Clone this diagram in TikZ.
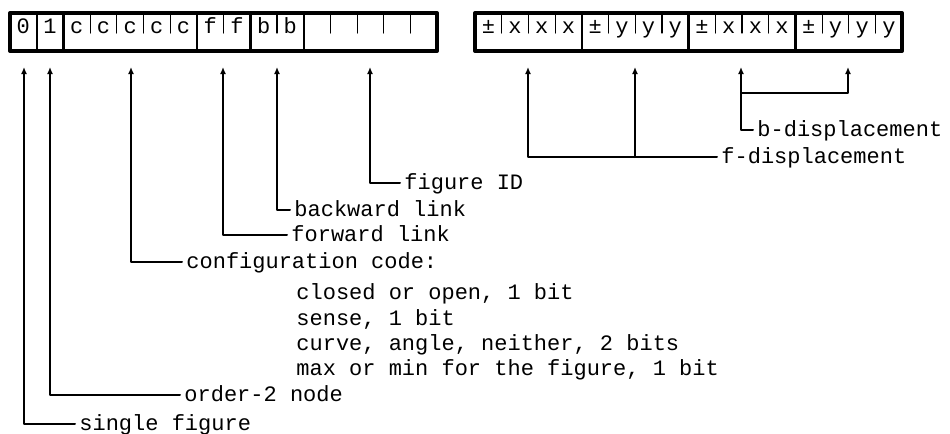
\documentclass[tikz,border=0pt]{standalone}
\usepackage{fontspec}
\setmainfont{Liberation Mono}
\usetikzlibrary{arrows.meta}
\tikzset{
  lbl/.style={anchor=west, inner xsep=2pt, inner ysep=0pt, text height=8pt, text depth=2pt,
    font=\fontsize{11}{13.5}\selectfont},
  bitchar/.style={anchor=base, inner sep=0pt, font=\fontsize{11}{13.5}\selectfont},
  ptr/.style={line width=1pt, -{Latex[length=3.5pt,width=3pt]}},
  tick/.style={line width=0.6pt},
  sep/.style={line width=1.2pt},
  frame/.style={line width=2pt},
}
\begin{document}
\begin{tikzpicture}[x=0.5pt, y=-0.5pt, line cap=round, line join=round]
    \useasboundingbox (0,0) rectangle (950,434);

    % Left word
    \foreach \b [count=\i from 0] in {0,1,c,c,c,c,c,f,f,b,b,{},{},{},{},{}}
        \node[bitchar] (l\i) at ({10+26.7*(\i+0.5)}, 33) {\b};
    \foreach \k in {3,4,5,6,8,10,12,13,14,15}
        \draw[tick] ({10+26.7*\k}, 13) -- ({10+26.7*\k}, 33);
    \foreach \k in {1,2,7,9,11}
        \draw[sep] ({10+26.7*\k}, 13) -- ({10+26.7*\k}, 51);
    \draw[frame] (10, 13) rectangle (437, 51);

    % Right word
    \foreach \b [count=\i from 0] in {±,x,x,x,±,y,y,y,±,x,x,x,±,y,y,y}
        \node[bitchar] (r\i) at ({475+26.7*(\i+0.5)}, 33) {\b};
    \foreach \k in {1,2,3,5,6,7,9,10,11,13,14,15}
        \draw[tick] ({475+26.7*\k}, 13) -- ({475+26.7*\k}, 33);
    \foreach \k in {4,8,12}
        \draw[sep] ({475+26.7*\k}, 13) -- ({475+26.7*\k}, 51);
    \draw[frame] (475, 13) rectangle (902, 51);

    % Arrow tips under the fields
    \coordinate (tsgl) at (24, 67);
    \coordinate (tord) at (50, 67);
    \coordinate (tcfg) at (131, 67);
    \coordinate (tfwd) at (223, 67);
    \coordinate (tbwd) at (277, 67);
    \coordinate (tfid) at (370, 67);
    \coordinate (tfx) at (528, 67);
    \coordinate (tfy) at (635, 67);
    \coordinate (tbx) at (741, 67);
    \coordinate (tby) at (848, 67);

    % Labels
    \node[lbl] (figid) at (400, 183) {figure ID};
    \node[lbl] (bwd) at (290, 210) {backward link};
    \node[lbl] (fwd) at (287, 235) {forward link};
    \node[lbl] (cfg) at (182, 262) {configuration code:};
    \foreach \n/\y/\t in {cfga/293/{closed or open, 1 bit}, cfgb/319/{sense, 1 bit},
                          cfgc/344/{curve, angle, neither, 2 bits},
                          cfgd/369/{max or min for the figure, 1 bit}}
        \node[lbl] (\n) at (292, \y) {\t};
    \node[lbl] (ord) at (180, 395) {order-2 node};
    \node[lbl] (sgl) at (75, 424) {single figure};
    \node[lbl] (bdisp) at (753, 130) {b-displacement};
    \node[lbl] (fdisp) at (717, 157) {f-displacement};

    % Pointers, left word
    \draw[ptr] (figid.west) -| (tfid);
    \draw[ptr] (bwd.west) -| (tbwd);
    \draw[ptr] (fwd.west) -| (tfwd);
    \draw[ptr] (cfg.west) -| (tcfg);
    \draw[ptr] (ord.west) -| (tord);
    \draw[ptr] (sgl.west) -| (tsgl);

    % Pointers, right word
    \draw[ptr] (fdisp.west) -| (tfx);
    \draw[ptr] (tfy |- fdisp.west) -- (tfy);
    \draw[ptr] (bdisp.west) -| (tbx);
    \coordinate (bjoin) at (741, 93);
    \draw[ptr] (bjoin) -| (tby);
\end{tikzpicture}
\end{document}
